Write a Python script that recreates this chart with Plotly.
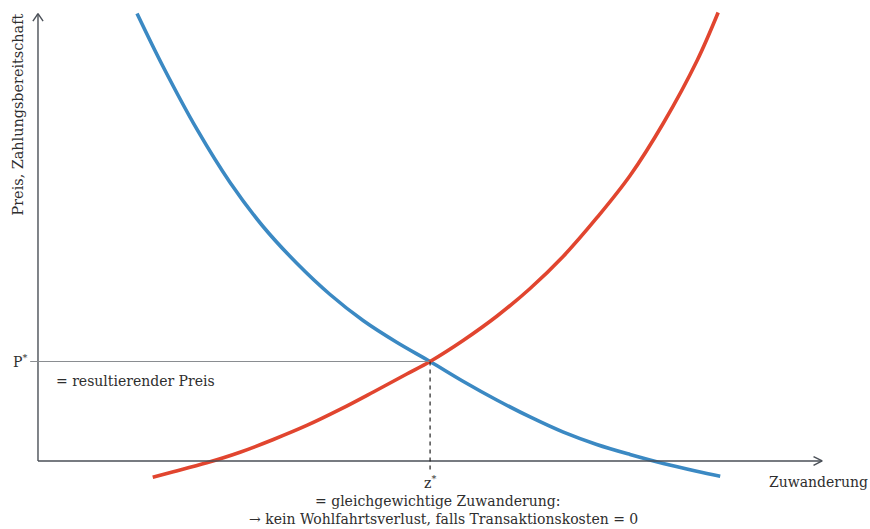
import plotly.graph_objects as go

# Demand (Zahlungsbereitschaft) curve – blue
demand_x = [2.526, 3.189, 4.056, 4.898, 5.740, 6.607, 7.449, 8.291, 9.158, 10.0,
            10.85, 11.70, 12.55, 13.40, 14.25, 15.10, 15.95, 16.80, 17.40]
demand_y = [10.034, 8.845, 7.433, 6.244, 5.258, 4.428, 3.733, 3.150, 2.657, 2.231,
            1.783, 1.368, 0.987, 0.646, 0.370, 0.146, -0.056, -0.229, -0.341]

# Supply / price curve – red
supply_x = [2.926, 3.452, 4.304, 5.153, 6.003, 6.855, 7.704, 8.554, 9.406, 10.0,
            10.842, 11.709, 12.551, 13.393, 14.260, 15.102, 15.944, 16.811, 17.347]
supply_y = [-0.363, -0.242, -0.040, 0.197, 0.482, 0.796, 1.155, 1.547, 1.951, 2.231,
            2.702, 3.251, 3.868, 4.585, 5.460, 6.401, 7.567, 8.980, 10.056]

# Equilibrium
z_star = 10.0
p_star = 2.231

# Axis extents
x_max = 20.0
y_max = 10.03

FONT = "DejaVu Serif"
AX_COL = "#4a4f57"

fig = go.Figure()

fig.add_trace(go.Scatter(x=demand_x, y=demand_y, mode="lines",
                         line=dict(color="#3b89c3", width=3.6, shape="spline", smoothing=1.0),
                         hoverinfo="skip"))
fig.add_trace(go.Scatter(x=supply_x, y=supply_y, mode="lines",
                         line=dict(color="#e1452f", width=3.6, shape="spline", smoothing=1.0),
                         hoverinfo="skip"))

shapes = [
    # axes
    dict(type="line", x0=0, y0=0, x1=x_max, y1=0, line=dict(color=AX_COL, width=1.4)),
    dict(type="line", x0=0, y0=0, x1=0, y1=y_max, line=dict(color=AX_COL, width=1.4)),
    # arrow heads (open chevrons)
    dict(type="line", x0=x_max - 0.22, y0=0.10, x1=x_max, y1=0, line=dict(color=AX_COL, width=1.4)),
    dict(type="line", x0=x_max - 0.22, y0=-0.10, x1=x_max, y1=0, line=dict(color=AX_COL, width=1.4)),
    dict(type="line", x0=-0.13, y0=y_max - 0.17, x1=0, y1=y_max, line=dict(color=AX_COL, width=1.4)),
    dict(type="line", x0=0.13, y0=y_max - 0.17, x1=0, y1=y_max, line=dict(color=AX_COL, width=1.4)),
    # P* line
    dict(type="line", x0=-0.2, y0=p_star, x1=z_star, y1=p_star, line=dict(color="#8a8d91", width=1.1)),
    # z* dashed line
    dict(type="line", x0=z_star, y0=p_star, x1=z_star, y1=-0.25,
         line=dict(color="#222222", width=1.2, dash="4px,4px")),
]

txt = dict(family=FONT, size=14, color="#2e2e2e")
vtxt = dict(family=FONT, size=14.4, color="#2e2e2e")
annotations = [
    dict(x=-0.51, y=7.77, text="Preis, Zahlungsbereitschaft", textangle=-90, showarrow=False,
         font=vtxt, xanchor="center", yanchor="middle"),
    dict(x=-0.23, y=p_star, text="P<sup>*</sup>", showarrow=False, font=txt,
         xanchor="right", yanchor="middle"),
    dict(x=0.41, y=1.79, text="= resultierender Preis", showarrow=False, font=txt,
         xanchor="left", yanchor="middle"),
    dict(x=z_star, y=-0.48, text="z<sup>*</sup>", showarrow=False, font=txt,
         xanchor="center", yanchor="middle"),
    dict(x=10.20, y=-0.886, text="= gleichgewichtige Zuwanderung:", showarrow=False, font=txt,
         xanchor="center", yanchor="middle"),
    dict(x=10.34, y=-1.29, text="→ kein Wohlfahrtsverlust, falls Transaktionskosten = 0",
         showarrow=False, font=txt, xanchor="center", yanchor="middle"),
    dict(x=18.60, y=-0.48, text="Zuwanderung", showarrow=False, font=txt,
         xanchor="left", yanchor="middle"),
]

fig.update_layout(
    width=870, height=529,
    margin=dict(l=0, r=0, t=0, b=0),
    paper_bgcolor="white", plot_bgcolor="white",
    showlegend=False,
    xaxis=dict(range=[-0.969, 21.22], visible=False, fixedrange=True),
    yaxis=dict(range=[-1.525, 10.336], visible=False, fixedrange=True),
    shapes=shapes,
    annotations=annotations,
)

fig.write_html("out.html", config={"displayModeBar": False},
               post_script="document.body.style.margin='0';document.body.style.overflow='hidden';")
